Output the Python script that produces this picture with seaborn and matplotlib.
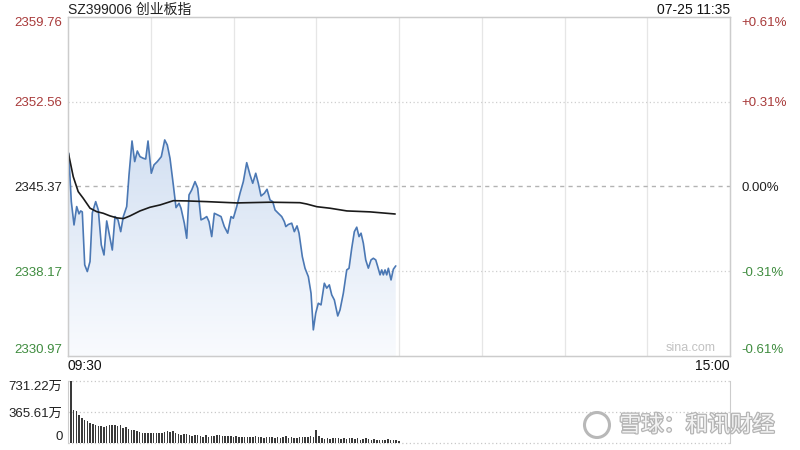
import numpy as np
import pandas as pd
import matplotlib
matplotlib.use("Agg")
import matplotlib.pyplot as plt
import seaborn as sns
from matplotlib.patches import Polygon, Circle
from matplotlib.colors import LinearSegmentedColormap
import matplotlib.patheffects as pe

# ---------------- data ----------------
title_text = "SZ399006 创业板指"
stamp_text = "07-25 11:35"
time_labels = ["09:30", "15:00"]

price_minutes = [0.25, 1.20, 2.18, 3.15, 3.99, 4.60, 5.18, 6.06, 7.00, 7.98, 8.81, 10.04, 10.99,
                 12.07, 13.05, 14.03, 14.87, 16.06, 17.04, 18.13, 19.11, 20.05, 21.28, 22.12, 23.21,
                 24.18, 25.13, 26.11, 27.30, 28.17, 29.01, 30.20, 31.18, 32.38, 33.83, 35.06, 36.00,
                 36.98, 38.18, 39.16, 40.25, 40.97, 42.17, 43.04, 43.87, 44.85, 46.05, 47.03, 48.22,
                 49.42, 50.29, 51.12, 52.10, 53.05, 54.28, 55.48, 56.67, 57.90, 59.10, 59.94, 61.17,
                 62.36, 63.56, 64.79, 65.99, 66.97, 68.06, 69.00, 69.98, 71.18, 72.15, 73.24, 74.22,
                 75.06, 76.25, 77.48, 78.43, 78.97, 79.88, 81.11, 82.05, 83.03, 83.76, 84.95, 85.93,
                 87.13, 88.11, 88.94, 89.81, 90.75, 91.73, 92.93, 93.80, 94.74, 95.61, 96.56, 97.79,
                 98.62, 99.82, 101.05, 101.88, 102.86, 103.81, 104.68, 105.51, 106.24, 107.07, 107.94,
                 108.88, 109.86, 110.70, 111.57, 112.29, 113.13, 113.74, 114.32, 114.94, 115.55,
                 116.14, 117.11, 117.95, 118.82]
price_values = [2348.19, 2344.08, 2342.10, 2343.66, 2343.04, 2343.29, 2343.21, 2338.71, 2338.14,
                2338.99, 2343.12, 2344.08, 2343.37, 2340.40, 2339.55, 2342.44, 2341.42, 2339.97,
                2342.81, 2342.53, 2341.53, 2342.81, 2343.66, 2346.35, 2349.23, 2347.48, 2348.38,
                2347.90, 2347.76, 2347.70, 2349.23, 2346.49, 2347.20, 2347.48, 2347.90, 2349.32,
                2348.89, 2347.76, 2345.50, 2343.57, 2343.94, 2343.52, 2342.25, 2340.97, 2344.65,
                2345.07, 2345.78, 2345.22, 2342.53, 2342.67, 2342.81, 2342.38, 2341.11, 2343.09,
                2342.95, 2342.81, 2341.96, 2341.40, 2342.81, 2342.67, 2343.66, 2344.79, 2345.78,
                2347.39, 2346.35, 2345.64, 2346.49, 2345.64, 2344.56, 2344.79, 2345.13, 2344.22,
                2344.08, 2343.37, 2343.09, 2342.81, 2342.38, 2341.96, 2342.14, 2342.25, 2341.53,
                2342.02, 2341.40, 2339.41, 2338.42, 2337.71, 2336.30, 2333.19, 2334.61, 2335.45,
                2335.31, 2337.15, 2336.73, 2337.01, 2336.16, 2335.73, 2334.37, 2334.89, 2336.30,
                2338.28, 2338.42, 2340.12, 2341.53, 2341.91, 2341.11, 2341.40, 2340.55, 2339.13,
                2338.43, 2339.13, 2339.27, 2339.13, 2338.56, 2337.86, 2338.28, 2337.86, 2338.28,
                2337.86, 2338.42, 2337.43, 2338.34, 2338.62]

avg_minutes = [0.1, 1.9, 3.7, 5.5, 8.0, 10.4, 12.8, 15.2, 17.7, 20.1, 22.5, 26.1, 29.7, 33.4,
               38.2, 43.0, 50.3, 55.1, 61.2, 73.2, 84.1, 86.5, 90.2, 95.0, 101.1, 109.5, 118.6]
avg_values = [2348.24, 2346.20, 2344.93, 2344.37, 2343.52, 2343.23, 2343.09, 2342.87, 2342.70,
              2342.64, 2342.87, 2343.29, 2343.60, 2343.80, 2344.16, 2344.14, 2344.08, 2344.03,
              2343.97, 2344.03, 2343.99, 2343.88, 2343.65, 2343.52, 2343.29, 2343.21, 2343.03]

volume_values = [166, 731, 395, 375, 336, 296, 276, 257, 237, 225, 217, 205, 198, 190, 205,
                 209, 209, 217, 198, 217, 178, 190, 166, 158, 150, 138, 126, 119, 119, 119,
                 119, 119, 119, 119, 119, 126, 138, 126, 138, 119, 111, 99, 111, 103, 95,
                 79, 91, 99, 87, 71, 95, 71, 79, 79, 91, 99, 87, 79, 79, 79, 67, 79,
                 71, 75, 75, 71, 75, 67, 79, 67, 75, 59, 71, 67, 71, 63, 75, 63, 71, 79,
                 59, 67, 63, 59, 71, 67, 75, 67, 79, 71, 150, 79, 59, 51, 55, 47, 55, 55,
                 63, 51, 55, 47, 55, 59, 47, 55, 40, 51, 55, 47, 40, 47, 36, 40, 32, 40,
                 43, 36, 40, 32, 24]
volume_minutes = list(range(len(volume_values)))

price_levels = [2330.97, 2338.17, 2345.37, 2352.56, 2359.76]
price_labels = ["2330.97", "2338.17", "2345.37", "2352.56", "2359.76"]
pct_labels = ["-0.61%", "-0.31%", "0.00%", "+0.31%", "+0.61%"]
level_colors = ["#3f8c3f", "#3f8c3f", "#222222", "#a83a3a", "#a83a3a"]
vol_ticks = [0, 365.61, 731.22]
vol_labels = ["0", "365.61万", "731.22万"]
watermark_text = "雪球：和讯财经"
source_text = "sina.com"

# ---------------- styling ----------------
sns.set_style("white")
plt.rcParams['font.family'] = ['Liberation Sans', 'Noto Sans CJK SC', 'DejaVu Sans']

W, H = 800, 450
fig = plt.figure(figsize=(8, 4.5), dpi=100)
fig.patch.set_facecolor("white")


def rect(x0, y0, x1, y1):
    return [x0 / W, 1 - y1 / H, (x1 - x0) / W, (y1 - y0) / H]


ax = fig.add_axes(rect(68, 17, 730, 356))
axv = fig.add_axes(rect(68, 381, 730, 443))

XMIN, XMAX = 0, 240
YLO, YHI = price_levels[0], price_levels[-1]

# gradient fill under the price line
verts = [(price_minutes[0], YLO)] + list(zip(price_minutes, price_values)) + [(price_minutes[-1], YLO)]
poly = Polygon(verts, closed=True, facecolor="none", edgecolor="none")
ax.add_patch(poly)
cmap = LinearSegmentedColormap.from_list("fade", ["#f9fbfe", "#d3e0f2"])
grad = np.linspace(0, 1, 256).reshape(-1, 1)
im = ax.imshow(grad, extent=[XMIN, XMAX, YLO, max(price_values)], origin="lower",
               cmap=cmap, aspect="auto", zorder=1)
im.set_clip_path(poly)

# grid
for m in range(30, 240, 30):
    ax.axvline(m, color="#e6e6e6", lw=0.9, zorder=0.5)
for lv in [price_levels[1], price_levels[3]]:
    ax.axhline(lv, color="#cfcfcf", lw=0.9, ls=(0, (1, 2)), zorder=0.5)
ax.axhline(price_levels[2], color="#b3b3b3", lw=1.0, ls=(0, (3, 3)), zorder=0.6)

df_price = pd.DataFrame({"minute": price_minutes, "price": price_values})
df_avg = pd.DataFrame({"minute": avg_minutes, "price": avg_values})
sns.lineplot(data=df_price, x="minute", y="price", ax=ax, color="#4b78b4", lw=1.2,
             sort=False, zorder=3)
sns.lineplot(data=df_avg, x="minute", y="price", ax=ax, color="#1a1a1a", lw=1.2,
             sort=False, zorder=4)

ax.set_xlim(XMIN, XMAX)
ax.set_ylim(YLO, YHI)
ax.set_xlabel("")
ax.set_ylabel("")
ax.set_xticks([])
ax.set_yticks(price_levels)
ax.set_yticklabels(price_labels, fontsize=9.5)
ax.tick_params(axis="y", length=0, pad=4)
for lab, c in zip(ax.get_yticklabels(), level_colors):
    lab.set_color(c)
labs = ax.get_yticklabels()
labs[0].set_va("bottom")
labs[-1].set_va("top")

axr = ax.twinx()
axr.set_ylim(YLO, YHI)
axr.set_yticks(price_levels)
axr.set_yticklabels(pct_labels, fontsize=9.5)
axr.tick_params(axis="y", length=0, pad=8)
for lab, c in zip(axr.get_yticklabels(), level_colors):
    lab.set_color(c)
rl = axr.get_yticklabels()
rl[0].set_va("bottom")
rl[-1].set_va("top")

for a in (ax, axr):
    for s in a.spines.values():
        s.set_color("#cccccc")
        s.set_linewidth(0.9)

# volume panel
df_vol = pd.DataFrame({"minute": volume_minutes, "vol": volume_values})
sns.barplot(data=df_vol, x="minute", y="vol", ax=axv, native_scale=True, width=0.55,
            color="#3a3a3a", saturation=1, errorbar=None, linewidth=0)
axv.set_xlim(XMIN, XMAX)
axv.set_ylim(0, 731.22)
axv.set_xlabel("")
axv.set_ylabel("")
axv.set_xticks([])
axv.set_yticks(vol_ticks)
axv.set_yticklabels(vol_labels, fontsize=9.5, color="#222222")
axv.tick_params(axis="y", length=0, pad=4)
vl = axv.get_yticklabels()
vl[0].set_va("bottom")
vl[-1].set_va("top")
for lv in vol_ticks:
    axv.axhline(lv, color="#c8c8c8", lw=0.9, ls=(0, (1, 2)), zorder=0.5, clip_on=False)
axv.spines["top"].set_visible(False)
axv.spines["bottom"].set_visible(False)
axv.spines["left"].set_color("#cccccc")
axv.spines["right"].set_color("#cccccc")

# texts
fig.text(68 / W, 1 - 10 / H, title_text, fontsize=10, color="#222222", ha="left", va="center")
fig.text(730 / W, 1 - 10 / H, stamp_text, fontsize=10, color="#111111", ha="right", va="center")
fig.text(68 / W, 1 - 366 / H, time_labels[0], fontsize=10, color="#111111", ha="left", va="center")
fig.text(730 / W, 1 - 366 / H, time_labels[1], fontsize=10, color="#111111", ha="right", va="center")
fig.text(691 / W, 1 - 348 / H, source_text, fontsize=9, color="#c2c2c2", ha="center", va="center")

# watermark
wm = fig.text(697 / W, 1 - 425 / H, watermark_text, fontsize=16, color="#f4f4f4",
              ha="center", va="center", family=["Noto Sans CJK SC", "DejaVu Sans"], zorder=10)
wm.set_path_effects([pe.withStroke(linewidth=1.8, foreground="#b4b4b4")])
ring = Circle((5.97, 0.25), 0.125, transform=fig.dpi_scale_trans, fill=False,
              edgecolor="#b8b8b8", lw=2.2, zorder=10)
fig.patches.append(ring)

fig.savefig("out.png", dpi=100)
